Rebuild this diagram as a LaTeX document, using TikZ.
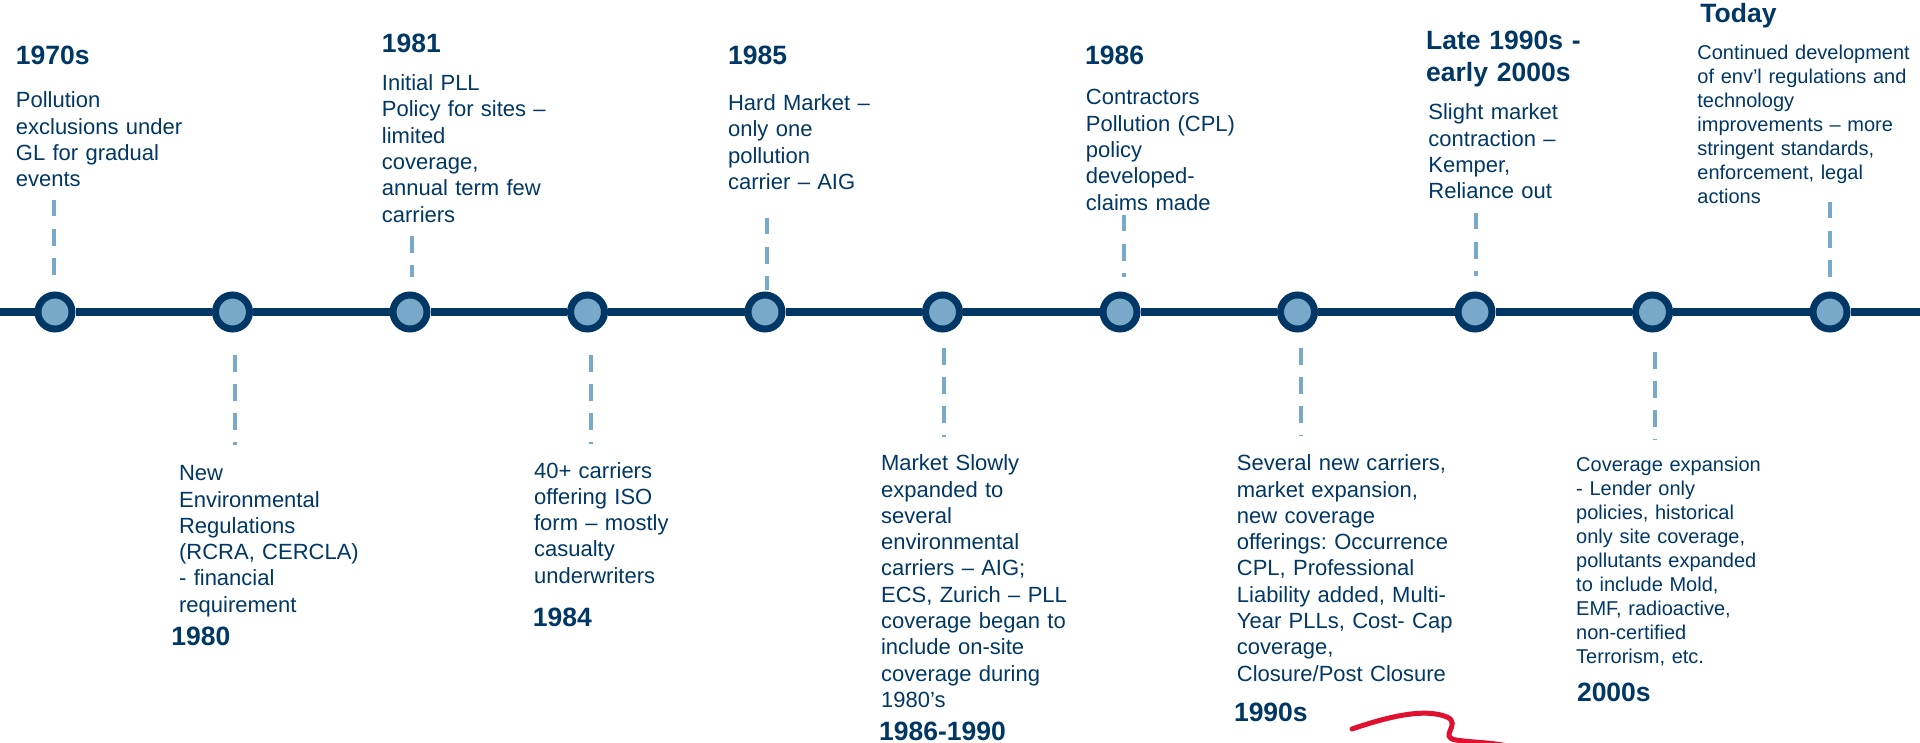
\documentclass[tikz,border=0pt]{standalone}
\usepackage{fontspec}
\setmainfont{Liberation Sans}
\usepackage{tikz}
\usetikzlibrary{positioning}

\definecolor{navy}{RGB}{0,55,100}
\definecolor{skyblue}{RGB}{120,169,200}
\definecolor{penred}{RGB}{224,16,48}

\frenchspacing

\begin{document}
\begin{tikzpicture}[
    x=0.5pt, y=-0.5pt,
    bead/.style={
        circle,
        draw=navy,
        line width=3.5pt,
        fill=skyblue,
        minimum size=17pt,
        inner sep=0pt
    },
    spine/.style={draw=navy, line width=3.8pt},
    leader/.style={draw=skyblue, line width=2pt, dash pattern=on 8.25pt off 6.25pt},
    year/.style={font=\fontsize{13.25}{15.85}\selectfont\bfseries, text=navy, inner sep=0pt, anchor=base west, text width=100pt, align=left},
    blurb/.style={font=\fontsize{11}{13.15}\selectfont, text=navy, inner sep=0pt, anchor=base west, text width=150pt, align=left},
    smallblurb/.style={blurb, font=\fontsize{10}{12}\selectfont}
]
\useasboundingbox (0,0) rectangle (1920,743);

\foreach \i in {0,...,10}
    \node[bead] (d\i) at ({55+177.5*\i},312) {};

\coordinate (left) at (0,312);
\coordinate (right) at (1920,312);
\draw[spine] (left) -- (d0) -- (d1) -- (d2) -- (d3) -- (d4) -- (d5) -- (d6) -- (d7) -- (d8) -- (d9) -- (d10) -- (right);

\draw[leader] (d0.center) ++(-1,-112) -- ++(0,75);
\draw[leader] (d1.center) ++(2,43) -- ++(0,90);
\draw[leader] (d2.center) ++(2,-76) -- ++(0,41);
\draw[leader] (d3.center) ++(3,43) -- ++(0,89);
\draw[leader] (d4.center) ++(1.5,-94) -- ++(0,72);
\draw[leader] (d5.center) ++(1,36) -- ++(0,89);
\draw[leader] (d6.center) ++(4,-97) -- ++(0,62);
\draw[leader] (d7.center) ++(3,36) -- ++(0,88);
\draw[leader] (d8.center) ++(1,-99) -- ++(0,63);
\draw[leader] (d9.center) ++(2.5,40) -- ++(0,88);
\draw[leader] (d10.center) ++(0,-110) -- ++(0,75);

\node[year] (y1970s) at (15.5,65) {1970s};
\node[blurb] (t1970s) at (15.5,108) {Pollution\\exclusions under\\GL for gradual\\events};

\node[blurb] (t1980) at (178.7,480.7) {New\\Environmental\\Regulations\\(RCRA, CERCLA)\\- financial\\requirement};
\node[year] (y1980) at (171,645) {1980};

\node[year] (y1981) at (381.5,53) {1981};
\node[blurb] (t1981) at (381.5,90.7) {Initial PLL\\Policy for sites –\\limited\\coverage,\\annual term few\\carriers};

\node[blurb] (t1984) at (533.7,478) {40+ carriers\\offering ISO\\form – mostly\\casualty\\underwriters};
\node[year] (y1984) at (532.4,626.7) {1984};

\node[year] (y1985) at (727.7,65) {1985};
\node[blurb] (t1985) at (727.7,110.7) {Hard Market –\\only one\\pollution\\carrier – AIG};

\node[blurb] (t1986b) at (880.7,470.7) {Market Slowly\\expanded to\\several\\environmental\\carriers – AIG;\\ECS, Zurich – PLL\\coverage began to\\include on-site\\coverage during\\1980’s};
\node[year] (y1986b) at (878.7,740) {1986-1990};

\node[year] (y1986) at (1084.7,65) {1986};
\node[blurb] (t1986) at (1085.5,105) {Contractors\\Pollution (CPL)\\policy\\developed-\\claims made};

\node[blurb] (t1990s) at (1236.5,470.7) {Several new carriers,\\market expansion,\\new coverage\\offerings: Occurrence\\CPL, Professional\\Liability added, Multi-\\Year PLLs, Cost- Cap\\coverage,\\Closure/Post Closure};
\node[year] (y1990s) at (1233.6,721.7) {1990s};

\node[year] (ylate) at (1425.7,50) {Late 1990s -\\early 2000s};
\node[blurb] (tlate) at (1428,120) {Slight market\\contraction –\\Kemper,\\Reliance out};

\node[smallblurb] (t2000s) at (1575.8,471.7) {Coverage expansion\\- Lender only\\policies, historical\\only site coverage,\\pollutants expanded\\to include Mold,\\EMF, radioactive,\\non-certified\\Terrorism, etc.};
\node[year] (y2000s) at (1576.6,701.7) {2000s};

\node[year] (ytoday) at (1700,22.7) {Today};
\node[smallblurb] (ttoday) at (1697,59.3) {Continued development\\of env’l regulations and\\technology\\improvements – more\\stringent standards,\\enforcement, legal\\actions};

\draw[penred, line width=2.5pt, line cap=round] (1352,729) .. controls (1390,716) and (1425,708) .. (1447,717) .. controls (1462,724) and (1438,737) .. (1456,740) .. controls (1475,743) and (1495,742) .. (1515,748);

\end{tikzpicture}
\end{document}
